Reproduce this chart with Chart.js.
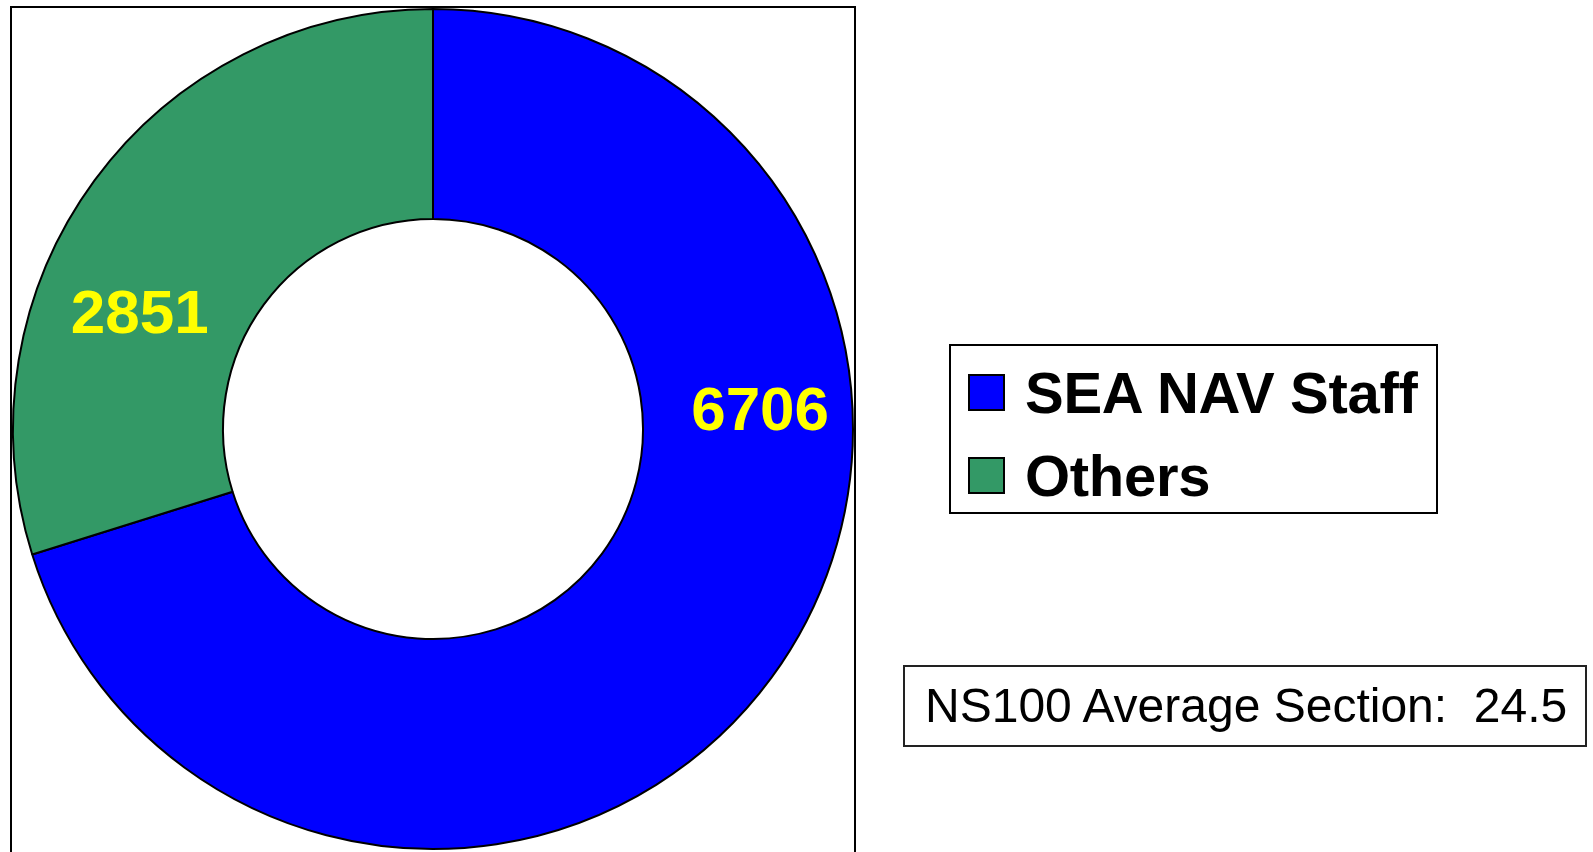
<!DOCTYPE html>
<html>
<head>
<meta charset="utf-8">
<script src="https://cdn.jsdelivr.net/npm/chart.js@4"></script>
<style>
    html, body { margin: 0; padding: 0; background: #fff; }
    #wrap { position: relative; width: 1593px; height: 852px; overflow: hidden; font-family: "Liberation Sans", Arial, sans-serif; }
    #myChart { position: absolute; left: 0; top: 0; }
    #legend { position: absolute; left: 949px; top: 344px; width: 485px; height: 166px; border: 2px solid #000; }
    .leg-item { position: absolute; left: 0; height: 58px; line-height: 58px; font-size: 58px; font-weight: bold; color: #000; white-space: nowrap; letter-spacing: -0.3px; }
    .leg-box { position: absolute; left: 17px; top: 10px; width: 33px; height: 33px; border: 2px solid #000; }
    .leg-text { position: absolute; left: 74px; top: 0; }
    #note { position: absolute; left: 903px; top: 665px; width: 680px; height: 78px; border: 2px solid #222; }
    #note span { position: absolute; left: 20px; top: 15px; font-size: 48px; line-height: 48px; color: #000; white-space: nowrap; }
</style>
</head>
<body>
<div id="wrap">
    <canvas id="myChart" width="1593" height="852"></canvas>
    <div id="legend"></div>
    <div id="note"><span>NS100 Average Section:&nbsp; 24.5</span></div>
</div>
<script>
// data
var categories = ['SEA NAV Staff', 'Others'];
var staffValues = [6706, 2851];
var sliceColors = ['#0000ff', '#339966'];

// where the value labels sit: fraction along each slice, fraction across the ring
var labelAlong = [0.344, 0.361];
var labelAcross = [0.56, 0.50];

// frame around the doughnut area
var framePlugin = {
    id: 'frame',
    beforeDraw: function(chart) {
        var a = chart.chartArea;
        var ctx = chart.ctx;
        ctx.save();
        ctx.strokeStyle = '#000';
        ctx.lineWidth = 2;
        ctx.strokeRect(a.left - 1, a.top - 1, a.width + 2, a.height + 30);
        ctx.restore();
    }
};

// yellow numbers inside the slices
var valuePlugin = {
    id: 'values',
    afterDatasetsDraw: function(chart) {
        var ctx = chart.ctx;
        var meta = chart.getDatasetMeta(0);
        ctx.save();
        ctx.fillStyle = '#ffff00';
        ctx.font = 'bold 62px "Liberation Sans", Arial, sans-serif';
        ctx.textAlign = 'center';
        ctx.textBaseline = 'middle';
        meta.data.forEach(function(arc, i) {
            var p = arc.getProps(['x', 'y', 'startAngle', 'endAngle', 'innerRadius', 'outerRadius'], true);
            var ang = p.startAngle + (p.endAngle - p.startAngle) * labelAlong[i];
            var r = p.innerRadius + (p.outerRadius - p.innerRadius) * labelAcross[i];
            ctx.fillText(String(staffValues[i]), p.x + Math.cos(ang) * r, p.y + Math.sin(ang) * r + 2);
        });
        ctx.restore();
    }
};

var ctx = document.getElementById('myChart').getContext('2d');
var chart = new Chart(ctx, {
    type: 'doughnut',
    data: {
        labels: categories,
        datasets: [{
            data: staffValues,
            backgroundColor: sliceColors,
            borderColor: '#000',
            borderWidth: 2,
            borderAlign: 'center',
            hoverOffset: 0
        }]
    },
    options: {
        responsive: false,
        animation: false,
        cutout: '50%',
        layout: { padding: { left: 12, top: 8, right: 739, bottom: 2 } },
        plugins: {
            legend: { display: false },
            tooltip: { enabled: false }
        }
    },
    plugins: [framePlugin, valuePlugin]
});

// legend built from the chart's own labels and colours
var legend = document.getElementById('legend');
chart.data.labels.forEach(function(lbl, i) {
    var item = document.createElement('div');
    item.className = 'leg-item';
    item.style.top = (i === 0 ? 18 : 101) + 'px';
    var box = document.createElement('div');
    box.className = 'leg-box';
    box.style.background = chart.data.datasets[0].backgroundColor[i];
    var txt = document.createElement('span');
    txt.className = 'leg-text';
    txt.textContent = lbl;
    item.appendChild(box);
    item.appendChild(txt);
    legend.appendChild(item);
});
</script>
</body>
</html>
